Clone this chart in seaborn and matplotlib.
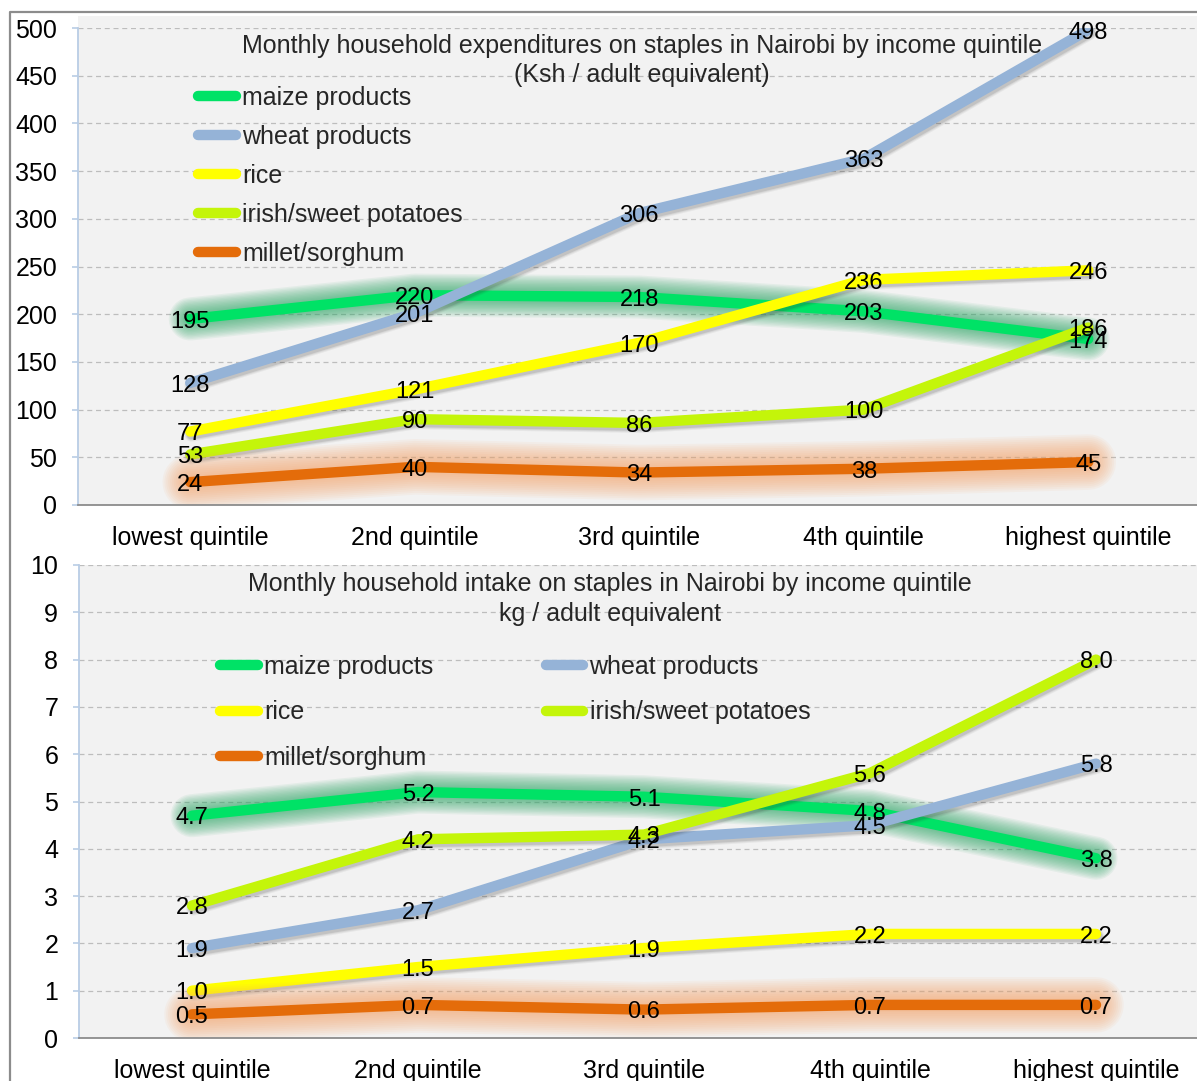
import numpy as np
import pandas as pd
import matplotlib
matplotlib.use("Agg")
import matplotlib.pyplot as plt
import matplotlib.patheffects as pe
from matplotlib.lines import Line2D
from matplotlib.patches import Rectangle
import seaborn as sns

# ---- data -------------------------------------------------------------
quintiles = ["lowest quintile", "2nd quintile", "3rd quintile",
             "4th quintile", "highest quintile"]
series_names = ["maize products", "wheat products", "rice",
                "irish/sweet potatoes", "millet/sorghum"]

# Monthly expenditure, Ksh per adult equivalent
spend_maize = [195, 220, 218, 203, 174]
spend_wheat = [128, 201, 306, 363, 498]
spend_rice = [77, 121, 170, 236, 246]
spend_potatoes = [53, 90, 86, 100, 186]
spend_millet = [24, 40, 34, 38, 45]

# Monthly intake, kg per adult equivalent
intake_maize = [4.7, 5.2, 5.1, 4.8, 3.8]
intake_wheat = [1.9, 2.7, 4.2, 4.5, 5.8]
intake_rice = [1.0, 1.5, 1.9, 2.2, 2.2]
intake_potatoes = [2.8, 4.2, 4.3, 5.6, 8.0]
intake_millet = [0.5, 0.7, 0.6, 0.7, 0.7]

spend_ticks = [0, 50, 100, 150, 200, 250, 300, 350, 400, 450, 500]
intake_ticks = [0, 1, 2, 3, 4, 5, 6, 7, 8, 9, 10]

title_spend = ("Monthly household expenditures on staples in Nairobi by income quintile\n"
               "(Ksh / adult equivalent)")
title_intake = ("Monthly household intake on staples in Nairobi by income quintile\n"
                "kg / adult equivalent")

# ---- styling ----------------------------------------------------------
sns.set_style("white")
plt.rcParams["font.family"] = ["Liberation Sans", "DejaVu Sans"]

palette = {
    "maize products": "#00E266",
    "wheat products": "#95B3D7",
    "rice": "#FFFF00",
    "irish/sweet potatoes": "#C4F50A",
    "millet/sorghum": "#E46C0A",
}
glow = {
    "maize products": ("#2FA868", 31),
    "millet/sorghum": ("#F2A36A", 40),
}
LW = 7.5
TICK_FS = 18
LABEL_FS = 18
DATA_FS = 17
PLOT_BG = "#F2F2F2"


def make_frame(values):
    rows = []
    for name, vals in zip(series_names, values):
        for q, v in zip(quintiles, vals):
            rows.append({"series": name, "quintile": q, "value": v})
    return pd.DataFrame(rows)


def line_effects(name):
    if name in glow:
        gcol, gwidth = glow[name]
        n = 12
        effects = []
        for k in range(n, 0, -1):
            w = LW + (gwidth - LW) * k / n
            effects.append(pe.Stroke(linewidth=w, foreground=gcol, alpha=0.075))
        effects.append(pe.Normal())
        return effects
    # soft drop shadow: a few offset strokes of decreasing width
    effects = []
    for w, a in ((LW + 3, 0.06), (LW + 1.5, 0.08), (LW, 0.12)):
        effects.append(pe.SimpleLineShadow(offset=(1.0, -2.0), shadow_color="#303030",
                                           alpha=a, linewidth=w))
    effects.append(pe.Normal())
    return effects


def draw_panel(ax, df, ticks, fmt, title, title_xy, legend_kw):
    ax.set_facecolor(PLOT_BG)
    for name in series_names:
        sub = df[df["series"] == name]
        sns.lineplot(data=sub, x="quintile", y="value", color=palette[name],
                     linewidth=LW, sort=False, ax=ax, legend=False)
        line = ax.lines[-1]
        line.set_solid_capstyle("round")
        line.set_solid_joinstyle("round")
        line.set_path_effects(line_effects(name))

    # value labels centred on each point
    for name in series_names:
        sub = df[df["series"] == name]
        for i, v in enumerate(sub["value"]):
            ax.annotate(fmt.format(v), (i, v), xytext=(0, -2),
                        textcoords="offset points", ha="center", va="center",
                        fontsize=DATA_FS, color="black", zorder=10)

    ax.set_xlim(-0.5, 4.5)
    ax.set_ylim(ticks[0], ticks[-1])
    ax.set_yticks(ticks)
    ax.set_xticks(range(len(quintiles)))
    ax.set_xticklabels(quintiles)
    ax.set_xticks(np.arange(-0.5, 5.0, 1.0), minor=True)
    ax.set_xlabel("")
    ax.set_ylabel("")

    ax.tick_params(axis="x", which="major", length=0, pad=15,
                   labelsize=LABEL_FS, colors="black")
    ax.tick_params(axis="x", which="minor", length=5, width=1.2,
                   direction="out", color="#8C8C8C")
    ax.tick_params(axis="y", length=4, width=1.2, color="#B9CDE5",
                   pad=11, labelsize=TICK_FS, labelcolor="black", left=True)

    ax.yaxis.grid(True, linestyle=(0, (4, 3)), color="#BDBDBD", linewidth=0.9)
    ax.set_axisbelow(True)
    for s in ("top", "right"):
        ax.spines[s].set_visible(False)
    ax.spines["left"].set_color("#B9CDE5")
    ax.spines["left"].set_linewidth(1.3)
    ax.spines["bottom"].set_color("#8C8C8C")
    ax.spines["bottom"].set_linewidth(1.3)

    ax.text(title_xy[0], title_xy[1], title, transform=ax.transAxes,
            ha="center", va="center", fontsize=LABEL_FS, linespacing=1.27)

    handles = {name: Line2D([], [], color=palette[name], linewidth=LW,
                            solid_capstyle="round") for name in series_names}
    order = legend_kw.pop("order")
    ax.legend([handles[n] for n in order], order, frameon=False,
              fontsize=LABEL_FS, handletextpad=0.25, borderpad=0,
              borderaxespad=0, loc="upper left", **legend_kw)


fig = plt.figure(figsize=(11.97, 10.81), dpi=100)
W, H = 1197, 1081

ax1 = fig.add_axes([78 / W, (H - 505) / H, 1122.5 / W, 477 / H])
ax2 = fig.add_axes([79 / W, (H - 1038) / H, 1130 / W, 473 / H])

# thin strip of plot background above the top panel
fig.add_artist(Rectangle((78 / W, (H - 28) / H), 1.0, 12 / H,
                         transform=fig.transFigure, facecolor=PLOT_BG,
                         edgecolor="none", zorder=0))

df_spend = make_frame([spend_maize, spend_wheat, spend_rice,
                       spend_potatoes, spend_millet])
df_intake = make_frame([intake_maize, intake_wheat, intake_rice,
                        intake_potatoes, intake_millet])

draw_panel(ax1, df_spend, spend_ticks, "{:.0f}", title_spend, (0.5025, 0.9315),
           dict(order=series_names, bbox_to_anchor=(0.107, 0.879),
                handlelength=1.5, labelspacing=0.6, ncol=1))
draw_panel(ax2, df_intake, intake_ticks, "{:.1f}", title_intake, (0.47, 0.928),
           dict(order=["maize products", "rice", "millet/sorghum",
                       "wheat products", "irish/sweet potatoes"],
                bbox_to_anchor=(0.125, 0.81), handlelength=1.5,
                labelspacing=0.86, ncol=2, columnspacing=4.5))

# outer frame of the chart
fig.add_artist(Line2D([10 / W, 10 / W, 1.01], [-0.01, (H - 12) / H, (H - 12) / H],
                      transform=fig.transFigure, color="#8C8C8C", linewidth=1.6))

fig.savefig("out.png", dpi=100, facecolor="white")
